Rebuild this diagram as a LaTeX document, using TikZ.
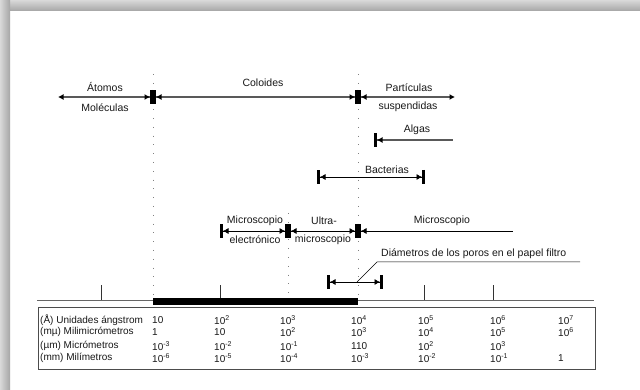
\documentclass[tikz,border=0pt]{standalone}
\usepackage{fontspec}
\setmainfont{Liberation Sans}
\usetikzlibrary{arrows.meta}
\pgfdeclarelayer{bglayer}
\pgfdeclarelayer{edgelayer}
\pgfdeclarelayer{nodelayer}
\pgfsetlayers{bglayer,edgelayer,nodelayer,main}
\tikzstyle{none}=[inner sep=0pt]
\tikzstyle{txt}=[inner sep=0pt, font=\fontsize{10.5}{12}\selectfont, text=black!90]
\tikzstyle{cell}=[inner sep=0pt, anchor=west, font=\fontsize{10}{11}\selectfont, text=black!90]
\tikzstyle{thinspan}=[line width=0.6pt]
\tikzstyle{widespan}=[line width=1.3pt, color=gray!70!black]
\tikzstyle{guide}=[gray, line width=0.8pt, dash pattern=on 0.8pt off 8pt]
\tikzset{
	bothbars/.style={arrows={Bar[width=14pt,line width=3pt,black]Latex[length=5.5pt,width=6pt,black]-Latex[length=5.5pt,width=6pt,black]Bar[width=14pt,line width=3pt,black]}},
	startbar/.style={arrows={Bar[width=14pt,line width=3pt,black]Latex[length=5.5pt,width=6pt,black]-}},
	startbarhead/.style={arrows={Bar[width=14pt,line width=3pt,black]Latex[length=5.5pt,width=6pt,black]-Latex[length=5.5pt,width=6pt,black]}},
	headendbar/.style={arrows={Latex[length=5.5pt,width=6pt,black]-Latex[length=5.5pt,width=6pt,black]Bar[width=14pt,line width=3pt,black]}}
}

\begin{document}
\begin{tikzpicture}[x=1pt,y=-1pt]
	\useasboundingbox (0,0) rectangle (640,390);
	\begin{pgfonlayer}{bglayer}
		\fill[white] (0,0) rectangle (640,390);
		\shade[top color=gray!30, bottom color=gray!70] (0,0) rectangle (640,11);
		\shade[left color=gray!30, right color=gray!70] (0,0) rectangle (10,390);
	\end{pgfonlayer}
	\begin{pgfonlayer}{nodelayer}
		\node [style=none] (0) at (58,97) {};
		\node [style=none] (1) at (153,97) {};
		\node [style=none] (2) at (358,97) {};
		\node [style=none] (3) at (455,97) {};
		\node [style=txt] (4) at (105,87) {Átomos};
		\node [style=txt] (5) at (105,108) {Moléculas};
		\node [style=txt] (6) at (263,83) {Coloides};
		\node [style=txt] (7) at (409,88) {Partículas};
		\node [style=txt] (8) at (408,107) {suspendidas};
		\node [style=none] (9) at (374,140) {};
		\node [style=none] (10) at (453,140) {};
		\node [style=txt] (11) at (417,130) {Algas};
		\node [style=none] (12) at (317,177) {};
		\node [style=none] (13) at (425,177) {};
		\node [style=txt] (14) at (387,170) {Bacterias};
		\node [style=none] (15) at (220,231) {};
		\node [style=none] (16) at (288,231) {};
		\node [style=none] (17) at (358,231) {};
		\node [style=none] (18) at (513,231) {};
		\node [style=txt] (19) at (255,221) {Microscopio};
		\node [style=txt] (20) at (255,240) {electrónico};
		\node [style=txt] (21) at (324,221) {Ultra-};
		\node [style=txt] (22) at (323,240) {microscopio};
		\node [style=txt] (23) at (442,221) {Microscopio};
		\node [style=none] (24) at (327,282) {};
		\node [style=none] (25) at (383,282) {};
		\node [style=none] (26) at (357,282) {};
		\node [style=none] (27) at (377,262) {};
		\node [style=none] (28) at (580,262) {};
		\node [style=txt, anchor=west] (29) at (381,254) {Diámetros de los poros en el papel filtro};
		\node [style=none] (30) at (153,74) {};
		\node [style=none] (31) at (153,298) {};
		\node [style=none] (32) at (358,74) {};
		\node [style=none] (33) at (358,298) {};
		\node [style=none] (34) at (288,213) {};
		\node [style=none] (35) at (288,298) {};
		\node [style=none] (36) at (37,300) {};
		\node [style=none] (37) at (594,300) {};
		\node [style=cell] (40) at (40,320) {(Å) Unidades ángstrom};
		\node [style=cell] (41) at (40,332) {(mµ) Milimicrómetros};
		\node [style=cell] (42) at (40,346) {(µm) Micrómetros};
		\node [style=cell] (43) at (40,358) {(mm) Milímetros};
		\node [style=cell] at (152,320) {10};
		\node [style=cell] at (214,320) {10\textsuperscript{2}};
		\node [style=cell] at (280,320) {10\textsuperscript{3}};
		\node [style=cell] at (351,320) {10\textsuperscript{4}};
		\node [style=cell] at (418,320) {10\textsuperscript{5}};
		\node [style=cell] at (490,320) {10\textsuperscript{6}};
		\node [style=cell] at (558,320) {10\textsuperscript{7}};
		\node [style=cell] at (152,332) {1};
		\node [style=cell] at (214,332) {10};
		\node [style=cell] at (280,332) {10\textsuperscript{2}};
		\node [style=cell] at (351,332) {10\textsuperscript{3}};
		\node [style=cell] at (418,332) {10\textsuperscript{4}};
		\node [style=cell] at (490,332) {10\textsuperscript{5}};
		\node [style=cell] at (558,332) {10\textsuperscript{6}};
		\node [style=cell] at (152,346) {10\textsuperscript{-3}};
		\node [style=cell] at (214,346) {10\textsuperscript{-2}};
		\node [style=cell] at (280,346) {10\textsuperscript{-1}};
		\node [style=cell] at (351,346) {110};
		\node [style=cell] at (418,346) {10\textsuperscript{2}};
		\node [style=cell] at (490,346) {10\textsuperscript{3}};
		\node [style=cell] at (152,358) {10\textsuperscript{-6}};
		\node [style=cell] at (214,358) {10\textsuperscript{-5}};
		\node [style=cell] at (280,358) {10\textsuperscript{-4}};
		\node [style=cell] at (351,358) {10\textsuperscript{-3}};
		\node [style=cell] at (418,358) {10\textsuperscript{-2}};
		\node [style=cell] at (490,358) {10\textsuperscript{-1}};
		\node [style=cell] at (558,358) {1};
	\end{pgfonlayer}
	\begin{pgfonlayer}{edgelayer}
		\draw [style=guide] (30.center) to (31.center);
		\draw [style=guide] (32.center) to (33.center);
		\draw [style=guide] (34.center) to (35.center);
		\draw [gray!80!black, line width=0.8pt] (36.center) to (37.center);
		\foreach \x in {101,220,424,493}
			\draw [black!80, line width=0.6pt] (\x,285) to (\x,300);
		\fill [black] (153,298) rectangle (358,305);
		\draw [gray!60!black, line width=1pt] (38,307) rectangle (595,369);
		\draw [style=widespan, headendbar] (0.center) to (1.center);
		\draw [style=widespan, bothbars] (1.center) to (2.center);
		\draw [style=widespan, startbarhead] (2.center) to (3.center);
		\draw [style=widespan, startbar] (9.center) to (10.center);
		\draw [style=thinspan, bothbars] (12.center) to (13.center);
		\draw [style=thinspan, bothbars] (15.center) to (16.center);
		\draw [style=thinspan, bothbars] (16.center) to (17.center);
		\draw [style=thinspan, startbar] (17.center) to (18.center);
		\draw [style=thinspan, bothbars] (24.center) to (25.center);
		\draw [style=thinspan, line width=0.5pt] (26.center) to (27.center) to (28.center);
	\end{pgfonlayer}
\end{tikzpicture}
\end{document}
